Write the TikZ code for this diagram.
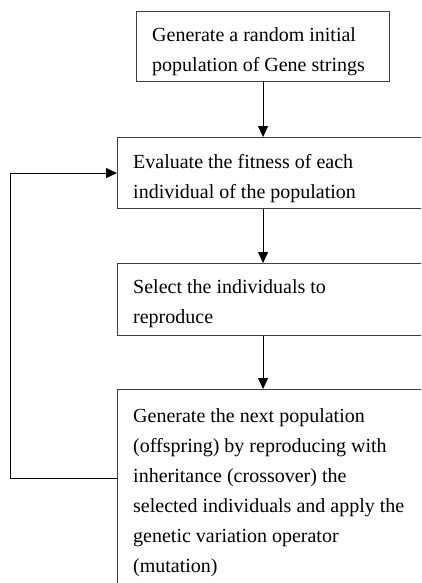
\documentclass[tikz,border=0pt]{standalone}
\usepackage{fontspec}
\setmainfont{Liberation Serif}
\usetikzlibrary{arrows.meta}
\begin{document}
\begin{tikzpicture}[
		x = 1pt, y = -1pt, % pixel grid, origin top left
		> = {Triangle[length=11pt,width=10pt]}, % arrow head style
		frame/.style = {draw=black!75, line width=1.1pt, anchor=north west, inner sep=0pt},
		txt/.style = {anchor=base west, align=left, inner sep=0pt, font=\fontsize{20}{30}\selectfont}, % base = last line
		flow/.style = {->, line width=1pt}
		]
		
		\clip (0,0) rectangle (421,583);
		
		\node[frame, minimum width=253pt, minimum height=70pt] (b1) at (136,11) {};
		\node[frame, minimum width=340pt, minimum height=71pt] (b2) at (117,137) {};
		\node[frame, minimum width=340pt, minimum height=72pt] (b3) at (117,263) {};
		\node[frame, minimum width=340pt, minimum height=230pt] (b4) at (117,389) {};
		
		\node[txt] (t1) at ([shift={(16pt,-61pt)}]b1.north west) {Generate a random initial\\population of Gene strings};
		\node[txt] (t2) at ([shift={(16pt,-61pt)}]b2.north west) {Evaluate the fitness of each\\individual of the population};
		\node[txt] (t3) at ([shift={(16pt,-60pt)}]b3.north west) {Select the individuals to\\reproduce};
		\node[txt] (t4) at ([shift={(16pt,-183pt)}]b4.north west) {Generate the next population\\(offspring) by reproducing with\\inheritance (crossover) the\\selected individuals and apply the\\genetic variation operator\\(mutation)};
		
		\coordinate (ret) at ([yshift=-89pt]b4.north west);
		
		\draw[flow] (b1.south) -- (b1.south |- b2.north);
		\draw[flow] (b1.south |- b2.south) -- (b1.south |- b3.north);
		\draw[flow] (b1.south |- b3.south) -- (b1.south |- b4.north);
		\draw[flow] (ret) -- ++(-107,0) |- (b2.west);
	\end{tikzpicture}
\end{document}
